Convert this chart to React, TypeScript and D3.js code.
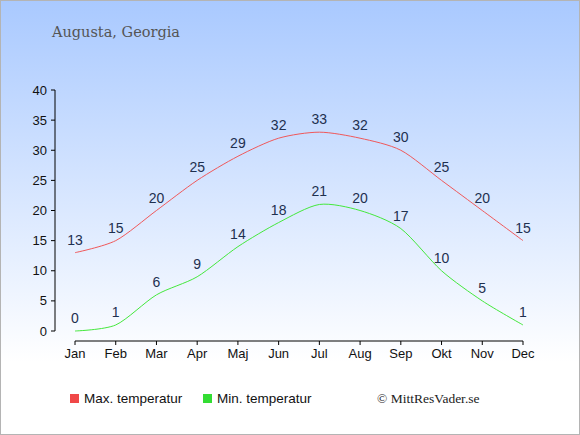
import React from 'react';
import * as d3 from 'd3';

const months = ['Jan', 'Feb', 'Mar', 'Apr', 'Maj', 'Jun', 'Jul', 'Aug', 'Sep', 'Okt', 'Nov', 'Dec'];
const maxTemp = [13, 15, 20, 25, 29, 32, 33, 32, 30, 25, 20, 15];
const minTemp = [0, 1, 6, 9, 14, 18, 21, 20, 17, 10, 5, 1];
const yTicks = [0, 5, 10, 15, 20, 25, 30, 35, 40];

const W = 580;
const H = 435;

if (typeof document !== 'undefined') document.body.style.margin = '0';

const App = () => {
  const x = d3.scalePoint().domain(months).range([75, 523]);
  const y = d3.scaleLinear().domain([0, 40]).range([331, 90]);

  const line = d3
    .line<number>()
    .x((_, i) => x(months[i]) as number)
    .y((d) => y(d))
    .curve(d3.curveCardinal.tension(0.2));

  const series = [
    { name: 'Max. temperatur', values: maxTemp, color: '#f0585a', box: '#f04848', lx: 70 },
    { name: 'Min. temperatur', values: minTemp, color: '#44e83c', box: '#33dd33', lx: 203 },
  ];

  return (
    <svg width={W} height={H} style={{ display: 'block' }}>
      <defs>
        <linearGradient id="bg" x1="0" y1="0" x2="0" y2="1">
          <stop offset="0%" stopColor="#a9c9ff" />
          <stop offset="100%" stopColor="#ffffff" />
        </linearGradient>
      </defs>
      <rect x={0} y={0} width={W} height={362} fill="url(#bg)" />
      <rect x={0} y={362} width={W} height={H - 362} fill="#fff" />
      <rect x={0.5} y={0.5} width={W - 1} height={H - 1} fill="none" stroke="#b4b4b4" />

      <text x={52} y={37} fontFamily="'DejaVu Serif', serif" fontSize={14.5} fill="#555">
        Augusta, Georgia
      </text>

      {/* y axis */}
      <line x1={55} x2={55} y1={y(40)} y2={y(0)} stroke="#000" />
      {yTicks.map((t) => (
        <g key={t}>
          <line x1={51} x2={55} y1={y(t)} y2={y(t)} stroke="#000" />
          <text x={47} y={y(t) + 4.5} textAnchor="end" fontFamily="'Liberation Sans', Arial, sans-serif" fontSize={13} fill="#111">
            {t}
          </text>
        </g>
      ))}

      {/* x axis */}
      <line x1={x('Jan')} x2={x('Dec')} y1={341} y2={341} stroke="#000" />
      {months.map((m) => (
        <g key={m}>
          <line x1={x(m)} x2={x(m)} y1={341} y2={345} stroke="#000" />
          <text x={x(m)} y={358} textAnchor="middle" fontFamily="'Liberation Sans', Arial, sans-serif" fontSize={13} fill="#111">
            {m}
          </text>
        </g>
      ))}

      {series.map((s) => (
        <g key={s.name}>
          <path d={line(s.values) ?? ''} fill="none" stroke={s.color} strokeWidth={1} />
          {s.values.map((v, i) => (
            <text
              key={i}
              x={x(months[i])}
              y={y(v) - 8}
              textAnchor="middle"
              fontFamily="'Liberation Sans', Arial, sans-serif"
              fontSize={14}
              fill="#1e3050"
            >
              {v}
            </text>
          ))}
          <rect x={s.lx} y={394} width={9} height={9} fill={s.box} />
          <text x={s.lx + 14} y={403} fontFamily="'Liberation Sans', Arial, sans-serif" fontSize={13.5} fill="#111">
            {s.name}
          </text>
        </g>
      ))}

      <text x={377} y={403} fontFamily="'Liberation Serif', serif" fontSize={13.5} fill="#222">
        © MittResVader.se
      </text>
    </svg>
  );
};

export default App;
